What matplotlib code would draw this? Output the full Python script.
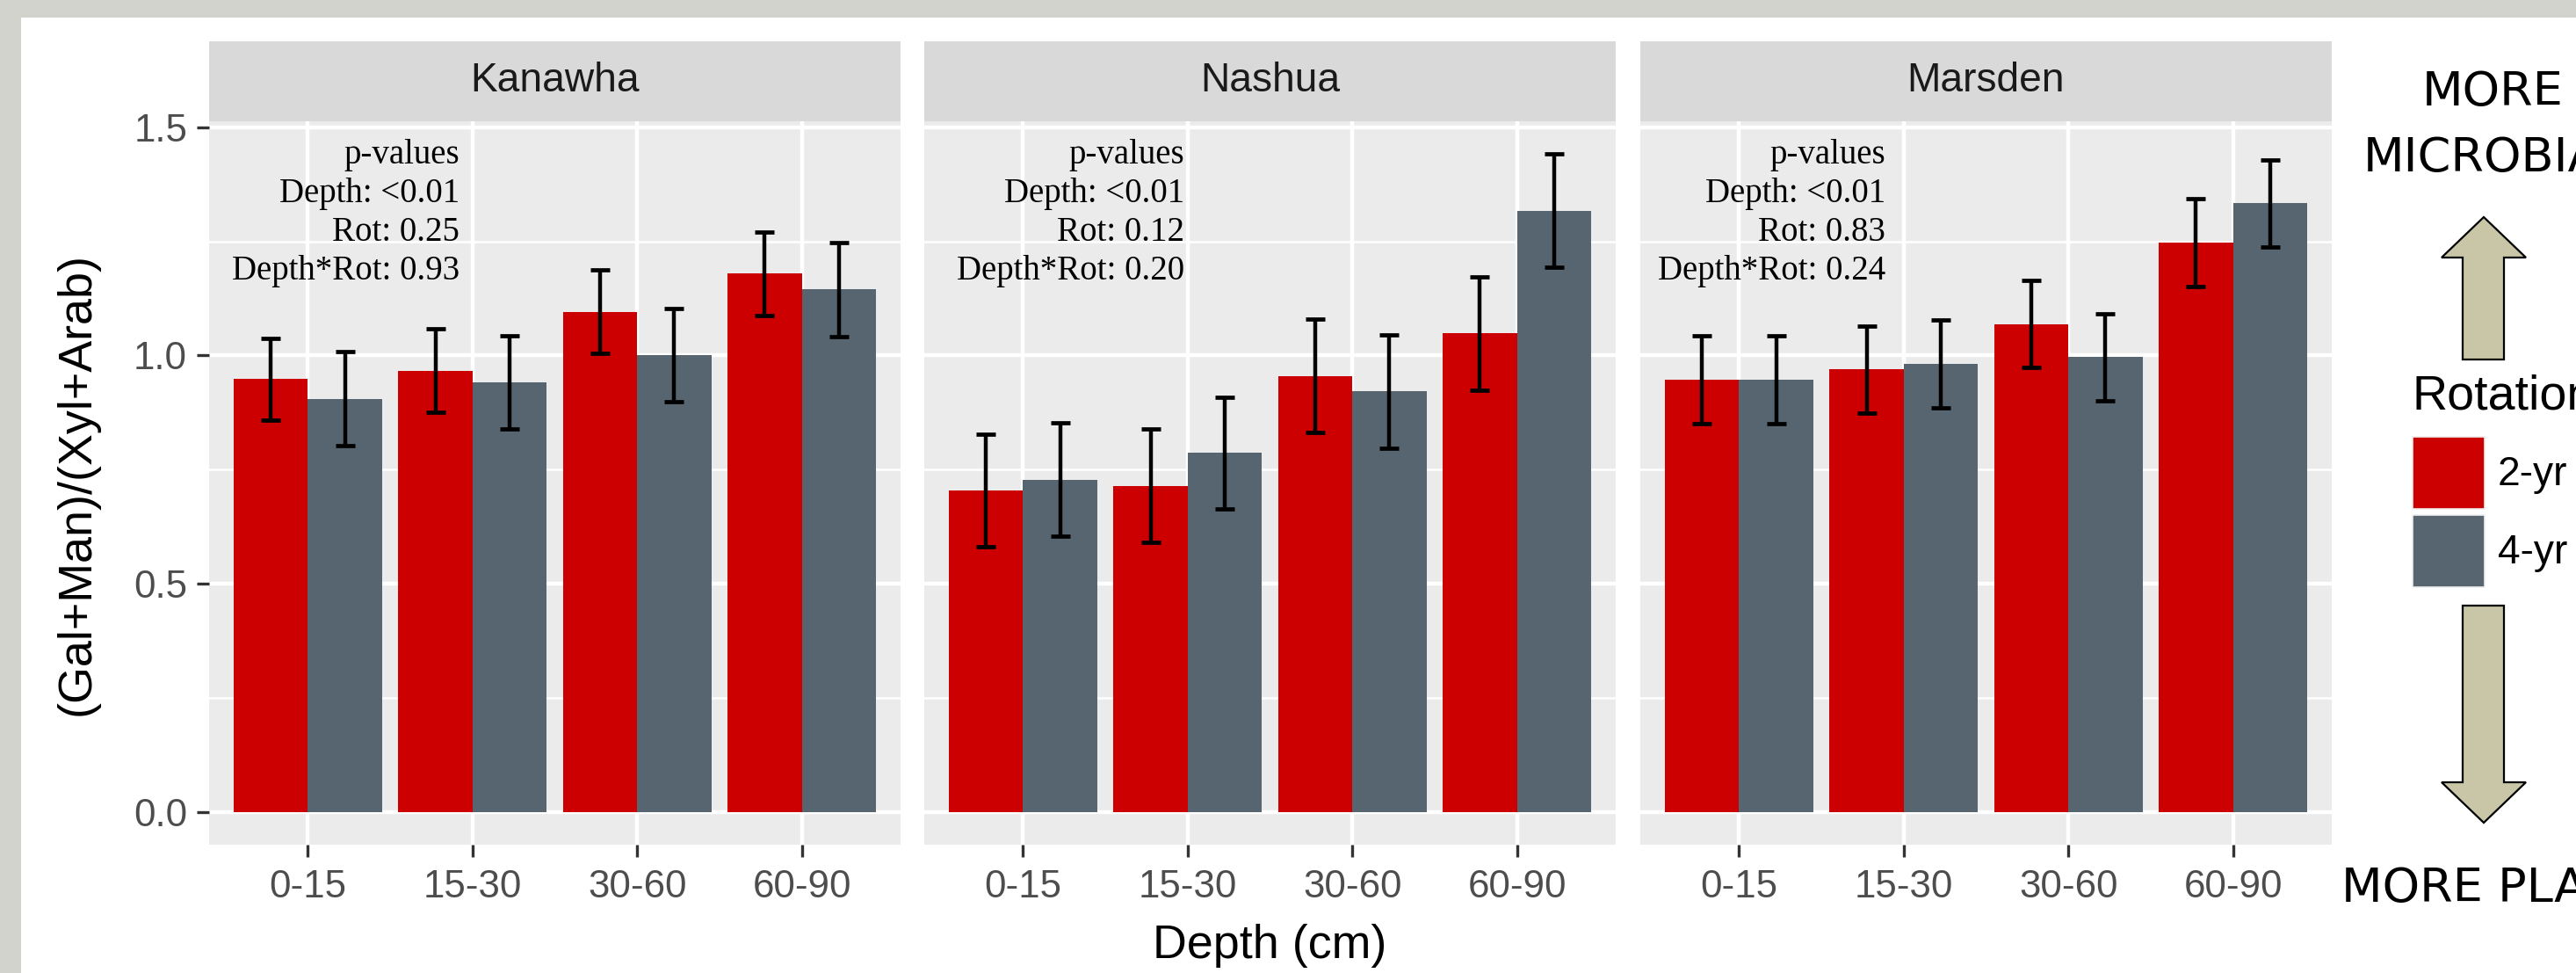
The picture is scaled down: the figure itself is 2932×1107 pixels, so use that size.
import numpy as np
import matplotlib
matplotlib.use("Agg")
import matplotlib.pyplot as plt
from matplotlib.patches import Rectangle, Polygon

plt.rcParams['font.family'] = ['Liberation Sans', 'DejaVu Sans']

# data
depths = ["0-15", "15-30", "30-60", "60-90"]
sites = ["Kanawha", "Nashua", "Marsden"]
rotations = ["2-yr", "4-yr"]

kanawha_2yr = [0.948, 0.967, 1.096, 1.179]
kanawha_2yr_se = [0.090, 0.092, 0.092, 0.092]
kanawha_4yr = [0.905, 0.941, 1.000, 1.145]
kanawha_4yr_se = [0.103, 0.103, 0.102, 0.103]

nashua_2yr = [0.704, 0.714, 0.955, 1.048]
nashua_2yr_se = [0.124, 0.124, 0.124, 0.124]
nashua_4yr = [0.728, 0.786, 0.921, 1.317]
nashua_4yr_se = [0.124, 0.123, 0.124, 0.124]

marsden_2yr = [0.947, 0.969, 1.069, 1.247]
marsden_2yr_se = [0.096, 0.096, 0.095, 0.096]
marsden_4yr = [0.947, 0.981, 0.996, 1.333]
marsden_4yr_se = [0.096, 0.096, 0.095, 0.096]

pvalue_labels = [
    "p-values\nDepth: <0.01\nRot: 0.25\nDepth*Rot: 0.93",
    "p-values\nDepth: <0.01\nRot: 0.12\nDepth*Rot: 0.20",
    "p-values\nDepth: <0.01\nRot: 0.83\nDepth*Rot: 0.24",
]

site_data = [
    (kanawha_2yr, kanawha_2yr_se, kanawha_4yr, kanawha_4yr_se),
    (nashua_2yr, nashua_2yr_se, nashua_4yr, nashua_4yr_se),
    (marsden_2yr, marsden_2yr_se, marsden_4yr, marsden_4yr_se),
]

RED = '#CC0000'
GRAY = '#56656F'

W, H, DPI = 2932, 1107, 200
fig = plt.figure(figsize=(W / DPI, H / DPI), dpi=DPI, facecolor='#D3D3CE')


def fig_box(x0, y0, x1, y1):
    # pixel box (top-left origin) -> figure fraction rect
    return [x0 / W, 1 - y1 / H, (x1 - x0) / W, (y1 - y0) / H]


# background / overlay in pixel coordinates
bg = fig.add_axes([0, 0, 1, 1])
bg.set_xlim(0, W)
bg.set_ylim(H, 0)
bg.axis('off')
bg.add_patch(Rectangle((24, 20), W - 24, H - 20, color='white', lw=0))

panel_left = [238, 1052, 1867]
panel_w = 787
text_x = [1.92, 1.98, 1.89]
x = np.arange(1, len(depths) + 1)

for i, site in enumerate(sites):
    m2, s2, m4, s4 = site_data[i]
    px = panel_left[i]
    ax = fig.add_axes(fig_box(px, 138, px + panel_w, 961))
    ax.set_facecolor('#EBEBEB')
    ax.bar(x - 0.225, m2, 0.45, color=RED, zorder=2)
    ax.bar(x + 0.225, m4, 0.45, color=GRAY, zorder=2)
    ax.errorbar(x - 0.225, m2, yerr=s2, fmt='none', ecolor='black',
                elinewidth=1.6, capsize=3.8, capthick=1.7, zorder=3)
    ax.errorbar(x + 0.225, m4, yerr=s4, fmt='none', ecolor='black',
                elinewidth=1.6, capsize=3.8, capthick=1.7, zorder=3)
    ax.set_xlim(0.4, 4.6)
    ax.set_ylim(-0.072, 1.513)
    ax.set_xticks(x)
    ax.set_xticklabels(depths)
    ax.set_yticks([0, 0.5, 1.0, 1.5])
    ax.set_yticklabels(['0.0', '0.5', '1.0', '1.5'])
    ax.set_yticks([0.25, 0.75, 1.25], minor=True)
    ax.grid(which='major', color='white', lw=1.6)
    ax.grid(which='minor', axis='y', color='white', lw=0.9)
    ax.set_axisbelow(True)
    for s in ax.spines.values():
        s.set_visible(False)
    ax.tick_params(which='major', length=5, width=1.2, color='#333333',
                   labelsize=15.8, labelcolor='#4D4D4D')
    ax.tick_params(axis='x', pad=5)
    ax.tick_params(axis='y', pad=4)
    ax.tick_params(which='minor', length=0)
    if i > 0:
        ax.tick_params(axis='y', left=False, labelleft=False)

    ax.text(text_x[i], 1.475, pvalue_labels[i], ha='right', va='top',
            fontsize=14, family=['Liberation Serif', 'DejaVu Serif'],
            linespacing=1.25, color='black', zorder=4)

    # facet strip
    sax = fig.add_axes(fig_box(px, 47, px + panel_w, 138))
    sax.set_facecolor('#D9D9D9')
    sax.set_xticks([])
    sax.set_yticks([])
    for s in sax.spines.values():
        s.set_visible(False)
    sax.text(0.5, 0.5, site, ha='center', va='center', fontsize=16.6,
             color='#1A1A1A', transform=sax.transAxes)

fig.text(1445 / W, 1 - 1076 / H, 'Depth (cm)', ha='center', va='center',
         fontsize=19.4, color='black')
fig.text(88 / W, 1 - 550 / H, '(Gal+Man)/(Xyl+Arab)', ha='center', va='center',
         rotation=90, fontsize=19.4, color='black')

# right-hand annotation: arrows and legend
arrow_kw = dict(facecolor='#C8C6A7', edgecolor='black', lw=0.8)
bg.add_patch(Polygon([(2827, 247), (2875, 293), (2850, 293), (2850, 409),
                      (2803, 409), (2803, 293), (2779, 293)], **arrow_kw))
bg.add_patch(Polygon([(2827, 936), (2875, 890), (2850, 890), (2850, 689),
                      (2803, 689), (2803, 890), (2779, 890)], **arrow_kw))

side_font = ['DejaVu Sans']
bg.text(2757, 105, 'MORE', ha='left', va='center', fontsize=19.5,
        family=side_font, color='black')
bg.text(2690, 180, 'MICROBIAL', ha='left', va='center', fontsize=19.5,
        family=side_font, color='black')
bg.text(2665, 1011, 'MORE PLANT', ha='left', va='center', fontsize=19.5,
        family=side_font, color='black')

bg.text(2745, 452, 'Rotation', ha='left', va='center', fontsize=20,
        color='black')
key_colors = [RED, GRAY]
key_y = [497, 586]
for lab, col, ky in zip(rotations, key_colors, key_y):
    bg.add_patch(Rectangle((2746, ky), 82, 82, facecolor=col,
                           edgecolor='#EEEEEE', lw=0.6))
    bg.text(2843, ky + 43, lab, ha='left', va='center', fontsize=16.6,
            color='black')

fig.savefig('out.png', dpi=DPI, facecolor=fig.get_facecolor())
